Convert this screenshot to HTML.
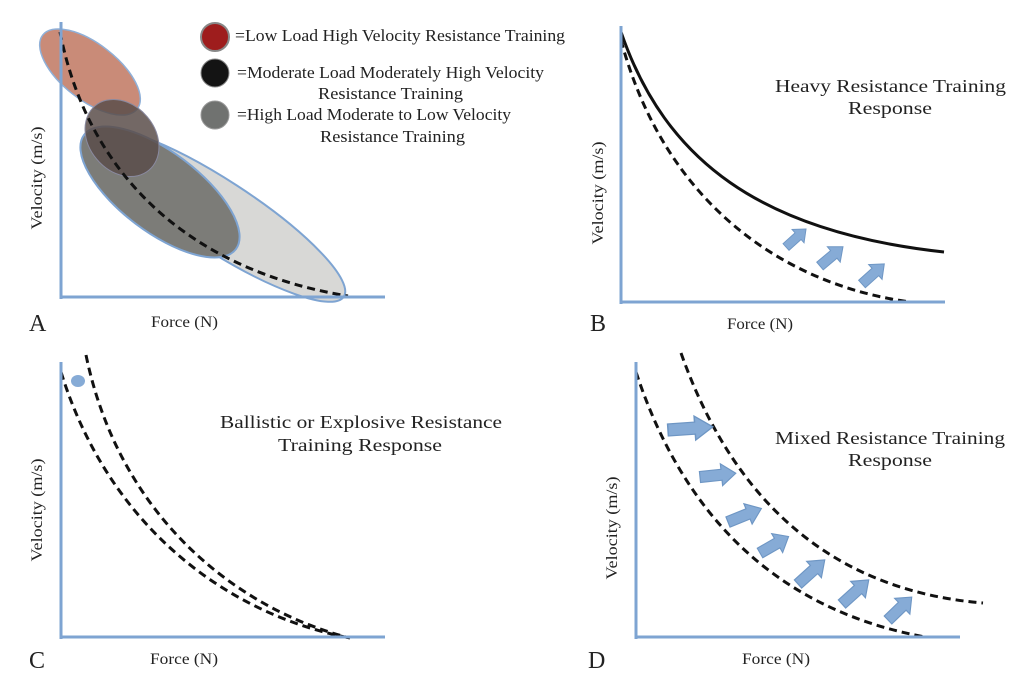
<!DOCTYPE html>
<html><head><meta charset="utf-8"><style>
html,body{margin:0;padding:0;background:#fff;}
svg{display:block;}
text{font-family:"Liberation Serif",serif;fill:#222;}
</style></head><body>
<svg width="1024" height="679" viewBox="0 0 1024 679" xmlns="http://www.w3.org/2000/svg">
<defs>
<g id="arr">
<polygon points="0,-5 18,-5 18,-10 30,0 18,10 18,5 0,5" fill="#86abd6" stroke="#6e96c4" stroke-width="1"/>
</g>
</defs>

<!-- Panel A -->
<g>
<ellipse cx="90" cy="72" rx="60" ry="28" transform="rotate(38 90 72)" fill="#c98b78" stroke="#8fb0d8" stroke-width="1.5"/>
<ellipse cx="218" cy="215" rx="150" ry="35" transform="rotate(33 218 215)" fill="#d8d8d6" stroke="#7ea4d2" stroke-width="2"/>
<ellipse cx="160" cy="192" rx="95" ry="40" transform="rotate(37 160 192)" fill="#7c7c78" stroke="#7ea4d2" stroke-width="2"/>
<ellipse cx="122" cy="138" rx="42" ry="33" transform="rotate(50 122 138)" fill="#5a4d4a" fill-opacity="0.85" stroke="#8a8aa0" stroke-width="1"/>
<path d="M60,32 C90,185 200,272 348,296" fill="none" stroke="#111" stroke-width="3" stroke-dasharray="8,5"/>
<line x1="61" y1="297" x2="385" y2="297" stroke="#7ea4d2" stroke-width="3"/>
<line x1="61" y1="22" x2="61" y2="299" stroke="#7ea4d2" stroke-width="3"/>
<circle cx="215" cy="37" r="14" fill="#9e1d1d" stroke="#888" stroke-width="2"/>
<circle cx="215" cy="73" r="14" fill="#141414" stroke="#888" stroke-width="1"/>
<circle cx="215" cy="115" r="14" fill="#707270" stroke="#999" stroke-width="1"/>
<text x="235" y="41" font-size="16.5" textLength="330" lengthAdjust="spacingAndGlyphs">=Low Load High Velocity Resistance Training</text>
<text x="237" y="78" font-size="16.5" textLength="307" lengthAdjust="spacingAndGlyphs">=Moderate Load Moderately High Velocity</text>
<text x="318" y="99" font-size="16.5" textLength="145" lengthAdjust="spacingAndGlyphs">Resistance Training</text>
<text x="237" y="120" font-size="16.5" textLength="274" lengthAdjust="spacingAndGlyphs">=High Load Moderate to Low Velocity</text>
<text x="320" y="142" font-size="16.5" textLength="145" lengthAdjust="spacingAndGlyphs">Resistance Training</text>
<text x="42" y="178" font-size="15.5" text-anchor="middle" textLength="103" lengthAdjust="spacingAndGlyphs" transform="rotate(-90 42 178)">Velocity (m/s)</text>
<text x="151" y="327" font-size="15.5" textLength="67" lengthAdjust="spacingAndGlyphs">Force (N)</text>
<text x="29" y="331" font-size="24">A</text>
</g>

<!-- Panel B -->
<g>
<path d="M621,32 C665,160 760,232 944,252" fill="none" stroke="#111" stroke-width="3"/>
<path d="M621,40 C665,205 785,285 910,302" fill="none" stroke="#111" stroke-width="3" stroke-dasharray="8,5"/>
<line x1="621" y1="302" x2="945" y2="302" stroke="#7ea4d2" stroke-width="3"/>
<line x1="621" y1="26" x2="621" y2="304" stroke="#7ea4d2" stroke-width="3"/>
<use href="#arr" transform="translate(786,247) rotate(-42) scale(0.9)"/>
<use href="#arr" transform="translate(820,266) rotate(-40)"/>
<use href="#arr" transform="translate(862,284) rotate(-42)"/>
<text x="775" y="92" font-size="18" textLength="231" lengthAdjust="spacingAndGlyphs">Heavy Resistance Training</text>
<text x="848" y="114" font-size="18" textLength="84" lengthAdjust="spacingAndGlyphs">Response</text>
<text x="603" y="193" font-size="15.5" text-anchor="middle" textLength="103" lengthAdjust="spacingAndGlyphs" transform="rotate(-90 603 193)">Velocity (m/s)</text>
<text x="727" y="329" font-size="15.5" textLength="66" lengthAdjust="spacingAndGlyphs">Force (N)</text>
<text x="590" y="331" font-size="24">B</text>
</g>

<!-- Panel C -->
<g>
<path d="M61,372 C110,530 230,615 350,638" fill="none" stroke="#111" stroke-width="3" stroke-dasharray="8,5"/>
<path d="M86,355 C120,520 240,610 350,638" fill="none" stroke="#111" stroke-width="3" stroke-dasharray="8,5"/>
<line x1="61" y1="637" x2="385" y2="637" stroke="#7ea4d2" stroke-width="3"/>
<line x1="61" y1="362" x2="61" y2="639" stroke="#7ea4d2" stroke-width="3"/>
<ellipse cx="78" cy="381" rx="7" ry="6" fill="#86abd6"/>
<text x="220" y="428" font-size="18" textLength="282" lengthAdjust="spacingAndGlyphs">Ballistic or Explosive Resistance</text>
<text x="278" y="451" font-size="18" textLength="164" lengthAdjust="spacingAndGlyphs">Training Response</text>
<text x="42" y="510" font-size="15.5" text-anchor="middle" textLength="103" lengthAdjust="spacingAndGlyphs" transform="rotate(-90 42 510)">Velocity (m/s)</text>
<text x="150" y="664" font-size="15.5" textLength="68" lengthAdjust="spacingAndGlyphs">Force (N)</text>
<text x="29" y="668" font-size="24">C</text>
</g>

<!-- Panel D -->
<g>
<path d="M636,372 C688,530 790,612 925,637" fill="none" stroke="#111" stroke-width="3" stroke-dasharray="8,5"/>
<path d="M681,353 C740,520 850,592 983,603" fill="none" stroke="#111" stroke-width="3" stroke-dasharray="8,5"/>
<line x1="636" y1="637" x2="960" y2="637" stroke="#7ea4d2" stroke-width="3"/>
<line x1="636" y1="362" x2="636" y2="639" stroke="#7ea4d2" stroke-width="3"/>
<use href="#arr" transform="translate(668,430) rotate(-4) scale(1.5,1.2)"/>
<use href="#arr" transform="translate(700,477) rotate(-6) scale(1.2,1.1)"/>
<use href="#arr" transform="translate(728,522) rotate(-22) scale(1.2,1.1)"/>
<use href="#arr" transform="translate(760,553) rotate(-30) scale(1.1,1.1)"/>
<use href="#arr" transform="translate(798,584) rotate(-42) scale(1.2,1.1)"/>
<use href="#arr" transform="translate(842,604) rotate(-42) scale(1.2,1.1)"/>
<use href="#arr" transform="translate(888,620) rotate(-44) scale(1.1,1.1)"/>
<text x="775" y="444" font-size="18" textLength="230" lengthAdjust="spacingAndGlyphs">Mixed Resistance Training</text>
<text x="848" y="466" font-size="18" textLength="84" lengthAdjust="spacingAndGlyphs">Response</text>
<text x="617" y="528" font-size="15.5" text-anchor="middle" textLength="103" lengthAdjust="spacingAndGlyphs" transform="rotate(-90 617 528)">Velocity (m/s)</text>
<text x="742" y="664" font-size="15.5" textLength="68" lengthAdjust="spacingAndGlyphs">Force (N)</text>
<text x="588" y="668" font-size="24">D</text>
</g>
</svg>
</body></html>
